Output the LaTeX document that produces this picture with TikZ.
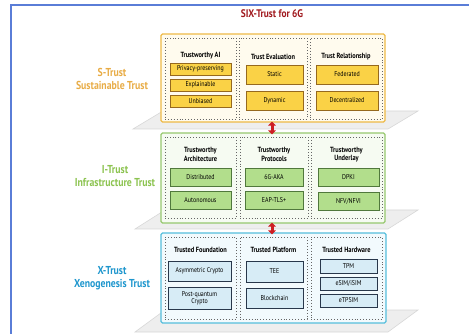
\documentclass[tikz,border=0pt]{standalone}
\usepackage{fontspec}
\setmainfont{PT Sans}
\newfontfamily\narrowfont[FakeStretch=0.85]{PT Sans}
\usetikzlibrary{arrows.meta}

\definecolor{frameblue}{RGB}{90,125,215}
\definecolor{titlered}{RGB}{160,25,30}
\definecolor{sgold}{RGB}{238,185,70}
\definecolor{sfill}{RGB}{255,251,238}
\definecolor{sitemfill}{RGB}{250,210,70}
\definecolor{sitemline}{RGB}{150,105,30}
\definecolor{slabel}{RGB}{232,172,70}
\definecolor{igreen}{RGB}{150,200,110}
\definecolor{ifill}{RGB}{246,251,242}
\definecolor{iitemfill}{RGB}{178,222,140}
\definecolor{iitemline}{RGB}{80,120,60}
\definecolor{ilabel}{RGB}{140,195,80}
\definecolor{xcyan}{RGB}{85,190,220}
\definecolor{xfill}{RGB}{242,250,253}
\definecolor{xitemfill}{RGB}{215,236,246}
\definecolor{xitemline}{RGB}{40,55,75}
\definecolor{xlabel}{RGB}{30,150,205}
\definecolor{planegray}{RGB}{238,238,238}
\definecolor{planeedge}{RGB}{215,215,215}
\definecolor{arrowred}{RGB}{205,30,35}

\tikzset{
  layer/.style={draw, rounded corners=1.5pt, line width=1.2pt, inner sep=0},
  colbox/.style={draw=black!60, dotted, line width=0.9pt, inner sep=0},
  item/.style={draw, line width=0.8pt, inner sep=0, align=center,
    font=\narrowfont\fontsize{7}{7.5}\selectfont},
  sitem/.style={item, draw=sitemline, fill=sitemfill},
  iitem/.style={item, draw=iitemline, fill=iitemfill},
  xitem/.style={item, draw=xitemline, fill=xitemfill},
  coltitle/.style={align=center, inner sep=0,
    font=\narrowfont\bfseries\fontsize{7.5}{8.5}\selectfont},
  layerlabel/.style={align=center, inner sep=0,
    font=\narrowfont\bfseries\fontsize{11.5}{13}\selectfont},
  plane/.style={fill=planegray, draw=planeedge, line width=0.6pt},
  updown/.style={arrowred, line width=3pt, shorten <=-1pt, shorten >=-2pt,
    {Triangle[length=4pt,width=7.5pt]}-{Triangle[length=4pt,width=7.5pt]}}
}

\begin{document}
\begin{tikzpicture}[x=1pt,y=-1pt]
  \useasboundingbox (0,0) rectangle (469,334);

  % Frame
  \draw [frameblue, line width=1.4pt] (11,334) -- (11,5) -- (469,5);

  % Title
  \node (title) at (272,14) [font=\narrowfont\bfseries\fontsize{11}{13}\selectfont, text=titlered] {SIX-Trust for 6G};

  % Planes under the layers
  \draw [plane] (133,129) -- (388,129) -- (418,111) -- (163,111) -- cycle;
  \draw [plane] (135,229) -- (388,229) -- (418,210) -- (165,210) -- cycle;
  \draw [plane] (135,332) -- (388,332) -- (418,310) -- (165,310) -- cycle;

  % Layer boxes
  \node (strust) at (273,78) [layer, draw=sgold, fill=sfill, minimum width=224pt, minimum height=88pt] {};
  \node (itrust) at (273,178) [layer, draw=igreen, fill=ifill, minimum width=224pt, minimum height=90pt] {};
  \node (xtrust) at (273.5,278) [layer, draw=xcyan, fill=xfill, minimum width=225pt, minimum height=90pt] {};

  % Layer labels
  \node (slbl) at (112,79) [layerlabel, text=slabel] {S-Trust\\Sustainable Trust};
  \node (ilbl) at (115,176) [layerlabel, text=ilabel] {I-Trust\\Infrastructure Trust};
  \node (xlbl) at (112,278) [layerlabel, text=xlabel] {X-Trust\\Xenogenesis Trust};

  % S-Trust columns
  \node (scola) at (200.5,78.5) [colbox, minimum width=71pt, minimum height=81pt] {};
  \node (scolb) at (273,78.5) [colbox, minimum width=68pt, minimum height=81pt] {};
  \node (scolc) at (346,78.5) [colbox, minimum width=72pt, minimum height=81pt] {};
  \node (stta) at (200.5,56) [coltitle] {Trustworthy AI};
  \node (sttb) at (273,57) [coltitle] {Trust Evaluation};
  \node (sttc) at (346,57) [coltitle] {Trust Relationship};
  \node (privacy) at (200.5,69) [sitem, minimum width=61pt, minimum height=12pt] {Privacy-preserving};
  \node (explain) at (200.5,85) [sitem, minimum width=61pt, minimum height=12pt] {Explainable};
  \node (unbiased) at (200.5,101) [sitem, minimum width=61pt, minimum height=12pt] {Unbiased};
  \node (static) at (274.5,74.5) [sitem, minimum width=57pt, minimum height=19pt] {Static};
  \node (dynamic) at (274.5,100.5) [sitem, minimum width=57pt, minimum height=19pt] {Dynamic};
  \node (federated) at (347,74.5) [sitem, minimum width=62pt, minimum height=19pt] {Federated};
  \node (decentral) at (347,100.5) [sitem, minimum width=62pt, minimum height=19pt] {Decentralized};

  % I-Trust columns
  \node (icola) at (200.5,177.5) [colbox, minimum width=71pt, minimum height=81pt] {};
  \node (icolb) at (274,177.5) [colbox, minimum width=68pt, minimum height=81pt] {};
  \node (icolc) at (346.5,177.5) [colbox, minimum width=71pt, minimum height=81pt] {};
  \node (itta) at (200.5,154.5) [coltitle] {Trustworthy\\Architecture};
  \node (ittb) at (274,154.5) [coltitle] {Trustworthy\\Protocols};
  \node (ittc) at (346.5,154.5) [coltitle] {Trustworthy\\Underlay};
  \node (distrib) at (200.5,177) [iitem, minimum width=61pt, minimum height=18pt] {Distributed};
  \node (autonom) at (200.5,200) [iitem, minimum width=61pt, minimum height=18pt] {Autonomous};
  \node (aka) at (274,177) [iitem, minimum width=58pt, minimum height=18pt] {6G-AKA};
  \node (eaptls) at (274,200) [iitem, minimum width=58pt, minimum height=18pt] {EAP-TLS+};
  \node (dpki) at (348.5,177) [iitem, minimum width=61pt, minimum height=18pt] {DPKI};
  \node (nfv) at (348.5,201) [iitem, minimum width=61pt, minimum height=18pt] {NFV/NFVI};

  % X-Trust columns
  \node (xcola) at (200.5,278) [colbox, minimum width=71pt, minimum height=82pt] {};
  \node (xcolb) at (273.5,278) [colbox, minimum width=67pt, minimum height=82pt] {};
  \node (xcolc) at (346.5,278) [colbox, minimum width=71pt, minimum height=82pt] {};
  \node (xtta) at (200.5,250) [coltitle] {Trusted Foundation};
  \node (xttb) at (273.5,250) [coltitle] {Trusted Platform};
  \node (xttc) at (346.5,250) [coltitle] {Trusted Hardware};
  \node (asym) at (199.5,271) [xitem, minimum width=63pt, minimum height=20pt] {Asymmetric Crypto};
  \node (pqc) at (199.5,298) [xitem, minimum width=63pt, minimum height=22pt] {Post-quantum\\Crypto};
  \node (tee) at (274.5,271.5) [xitem, minimum width=57pt, minimum height=21pt] {TEE};
  \node (chain) at (274.5,298) [xitem, minimum width=57pt, minimum height=20pt] {Blockchain};
  \node (tpm) at (348.5,266) [xitem, minimum width=57pt, minimum height=14pt] {TPM};
  \node (esim) at (348.5,283.5) [xitem, minimum width=57pt, minimum height=13pt] {eSIM/iSIM};
  \node (etpsim) at (348.5,300.5) [xitem, minimum width=57pt, minimum height=13pt] {eTPSIM};

  % Arrows between layers
  \draw [updown] ([xshift=-1pt]strust.south) -- ([xshift=-1pt]itrust.north);
  \draw [updown] ([xshift=-1pt]itrust.south) -- ([xshift=-1.5pt]xtrust.north);
\end{tikzpicture}
\end{document}
